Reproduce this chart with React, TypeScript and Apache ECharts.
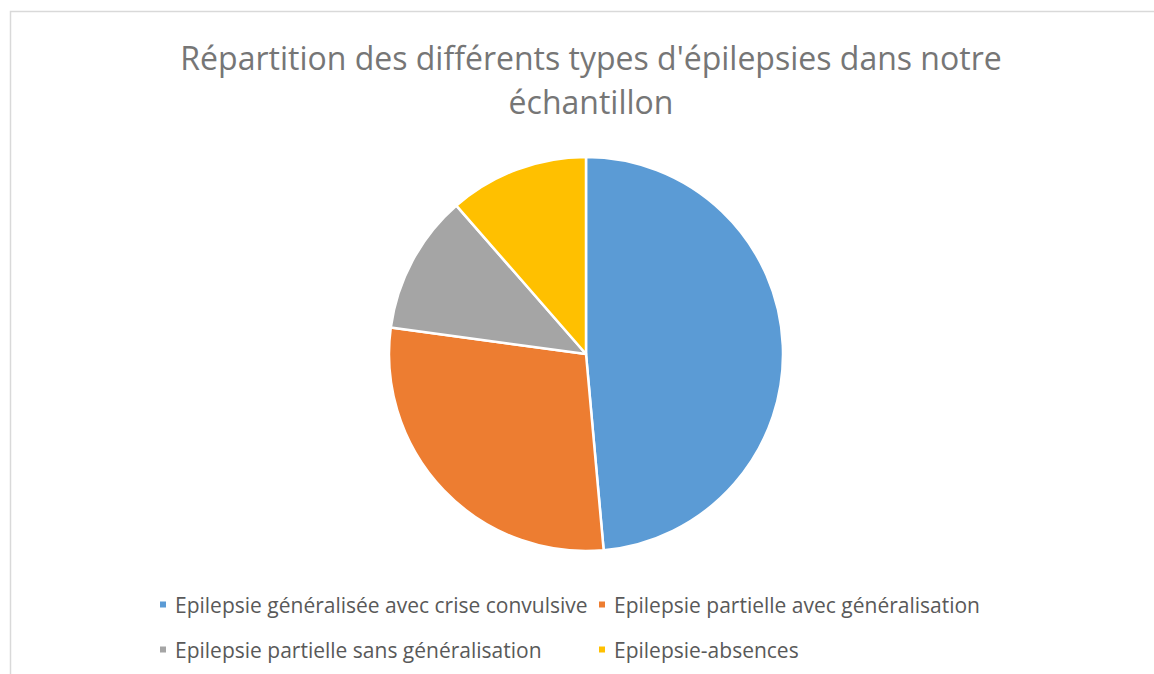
import React, { useEffect, useRef } from "react";
import * as echarts from "echarts";

const titleLines = ["Répartition des différents types d'épilepsies dans notre", "échantillon"];
const categories = [
  "Epilepsie généralisée avec crise convulsive",
  "Epilepsie partielle avec généralisation",
  "Epilepsie partielle sans généralisation",
  "Epilepsie-absences",
];
const values = [17, 10, 4, 4];
const colors = ["#5B9BD5", "#ED7D31", "#A5A5A5", "#FFC000"];

export default function App() {
  const ref = useRef<HTMLDivElement>(null);
  useEffect(() => {
    if (!ref.current) return;
    const chart = echarts.init(ref.current, null, { renderer: "svg" });
    const legendPos = [
      { left: 158, top: 594 },
      { left: 597, top: 594 },
      { left: 158, top: 639 },
      { left: 597, top: 639 },
    ];
    chart.setOption({
      animation: false,
      backgroundColor: "#ffffff",
      title: {
        text: titleLines.join("\n"),
        left: 586,
        textAlign: "center",
        top: 30,
        textStyle: {
          fontFamily: "Open Sans",
          fontSize: 32,
          fontWeight: "normal",
          color: "#767676",
          lineHeight: 44,
        },
      },
      legend: categories.map((c, i) => ({
        data: [c],
        left: legendPos[i].left,
        top: legendPos[i].top,
        icon: "rect",
        itemWidth: 8,
        itemHeight: 8,
        itemGap: 0,
        padding: 0,
        selectedMode: false,
        textStyle: { fontFamily: "Open Sans", fontSize: 21, color: "#595959", padding: [0, 0, 0, 3] },
      })),
      graphic: [
        {
          type: "rect",
          shape: { x: 10.5, y: 11.5, width: 1200, height: 700 },
          style: { fill: "none", stroke: "#d9d9d9", lineWidth: 1.5 },
          silent: true,
        },
      ],
      series: [
        {
          type: "pie",
          center: [586, 354],
          radius: 197,
          startAngle: 90,
          clockwise: true,
          label: { show: false },
          labelLine: { show: false },
          emphasis: { disabled: true },
          itemStyle: { borderColor: "#ffffff", borderWidth: 2.5 },
          data: categories.map((c, i) => ({ name: c, value: values[i], itemStyle: { color: colors[i] } })),
        },
      ],
    });
    return () => chart.dispose();
  }, []);
  return <div ref={ref} style={{ position: "absolute", left: 0, top: 0, width: 1154, height: 674 }} />;
}
